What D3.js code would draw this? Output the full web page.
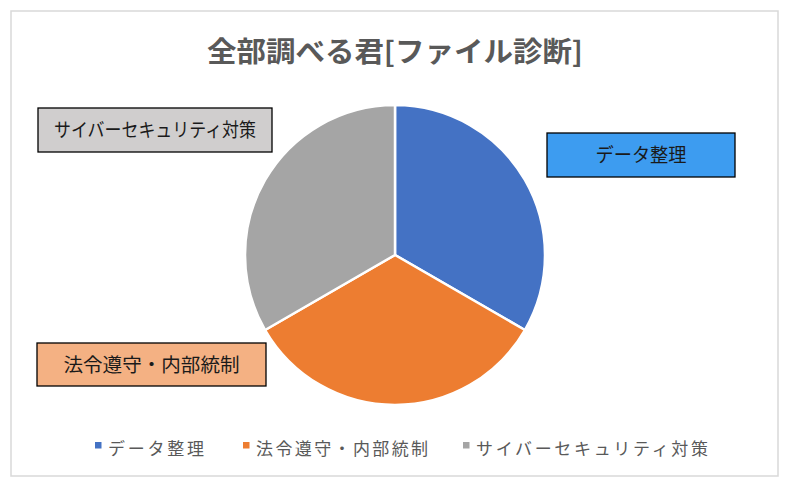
<!DOCTYPE html>
<html>
<head>
<meta charset="utf-8">
<script src="https://cdn.jsdelivr.net/npm/d3@7"></script>
<style>
  body { margin: 0; background: #fff; }
  svg { display: block; }
</style>
</head>
<body>
<svg id="chart" width="786" height="483"></svg>
<script>
// chart data
const title = "全部調べる君[ファイル診断]";
const categories = ["データ整理", "法令遵守・内部統制", "サイバーセキュリティ対策"];
const values = [1, 1, 1];
const slice_colors = ["#4472c4", "#ed7d31", "#a5a5a5"];
const label_fills = ["#3d9cf0", "#f4b183", "#d0cece"];

const svg = d3.select("#chart");
const font = "'Noto Sans CJK JP', 'Noto Sans', sans-serif";

// outer chart frame
svg.append("rect")
  .attr("x", 11).attr("y", 11).attr("width", 767).attr("height", 465)
  .attr("fill", "#fff").attr("stroke", "#d9d9d9").attr("stroke-width", 1.5);

svg.append("text")
  .attr("x", 207).attr("y", 62)
  .attr("font-family", font).attr("font-weight", "bold").attr("font-size", 28)
  .attr("fill", "#595959")
  .attr("textLength", 376).attr("lengthAdjust", "spacingAndGlyphs")
  .text(title);

const cx = 395, cy = 255, radius = 150;
const pie = d3.pie().sort(null).value(d => d)(values);
const arc = d3.arc().innerRadius(0).outerRadius(radius);

const g = svg.append("g").attr("transform", `translate(${cx},${cy})`);
g.selectAll("path").data(pie).enter()
  .append("path")
  .attr("d", arc)
  .attr("fill", (d, i) => slice_colors[i])
  .attr("stroke", "#fff").attr("stroke-width", 2.5).attr("stroke-linejoin", "round");

// data label boxes, placed by hand like the original
const label_boxes = [
  { x: 547, y: 133, w: 188, h: 44, tw: 91 },
  { x: 37, y: 343, w: 229, h: 43, tw: 176 },
  { x: 38, y: 108, w: 234, h: 44, tw: 202 }
];
label_boxes.forEach((b, i) => {
  svg.append("rect")
    .attr("x", b.x).attr("y", b.y).attr("width", b.w).attr("height", b.h)
    .attr("fill", label_fills[i]).attr("stroke", "#000").attr("stroke-width", 1.3);
  svg.append("text")
    .attr("x", b.x + (b.w - b.tw) / 2).attr("y", b.y + b.h / 2 + 7)
    .attr("font-family", font).attr("font-size", 19)
    .attr("fill", "#1a1a1a")
    .attr("textLength", b.tw).attr("lengthAdjust", "spacingAndGlyphs")
    .text(categories[i]);
});

// legend along the bottom
const legend_x = [95, 243, 463];
const legend_w = [96, 172, 232];
const legend = svg.append("g");
categories.forEach((c, i) => {
  legend.append("rect")
    .attr("x", legend_x[i]).attr("y", 442).attr("width", 6.5).attr("height", 6.5)
    .attr("fill", slice_colors[i]);
  legend.append("text")
    .attr("x", legend_x[i] + 13).attr("y", 455)
    .attr("font-family", font).attr("font-size", 17)
    .attr("fill", "#595959")
    .attr("textLength", legend_w[i]).attr("lengthAdjust", "spacing")
    .text(c);
});
</script>
</body>
</html>
